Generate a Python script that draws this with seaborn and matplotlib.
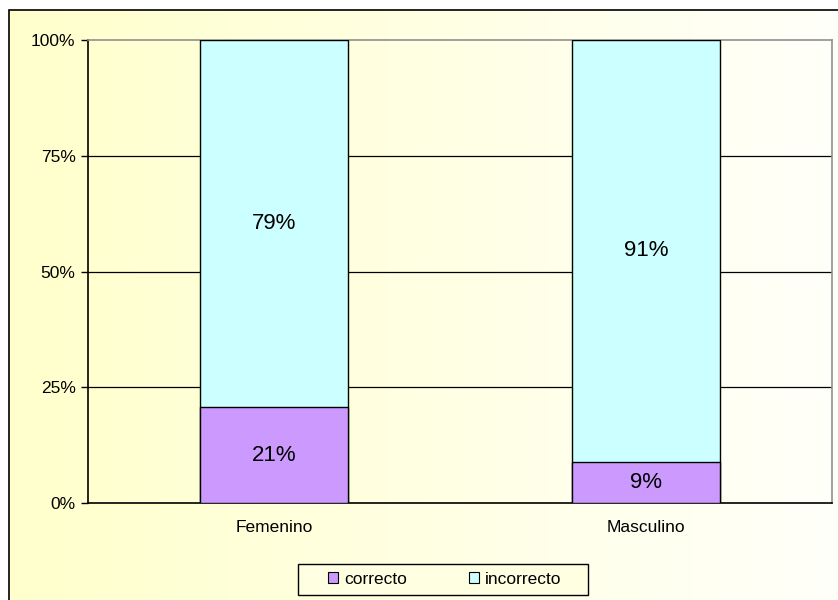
import numpy as np
import pandas as pd
import matplotlib
matplotlib.use("Agg")
import matplotlib.pyplot as plt
import matplotlib.patches as mpatches
import seaborn as sns

categories = ["Femenino", "Masculino"]
correcto = [20.7, 8.9]
incorrecto = [79.3, 91.1]
yticks = [0, 25, 50, 75, 100]
ytick_labels = ["0%", "25%", "50%", "75%", "100%"]
series_names = ["correcto", "incorrecto"]
colors = {"correcto": "#CC99FF", "incorrecto": "#CCFFFF"}

sns.set_theme(style="white")
plt.rcParams['font.family'] = ['Liberation Sans', 'DejaVu Sans']
plt.rcParams['text.color'] = 'black'
plt.rcParams['xtick.color'] = 'black'
plt.rcParams['ytick.color'] = 'black'
plt.rcParams['axes.labelcolor'] = 'black'

df = pd.DataFrame({"cat": categories, "correcto": correcto, "incorrecto": incorrecto})
df["total"] = df["correcto"] + df["incorrecto"]

fig = plt.figure(figsize=(8.38, 6.0), dpi=100)
fig.patch.set_facecolor("white")

# background gradient inside chart frame
bg = fig.add_axes([9/838, 0, 1 - 9/838, 1 - 10/600], zorder=-10)
grad = np.linspace(0, 1, 256)
c0 = np.array([255, 255, 204]) / 255
c1 = np.array([255, 255, 250]) / 255
img = (c0[None, :] * (1 - grad[:, None]) + c1[None, :] * grad[:, None])[None, :, :]
bg.imshow(img, aspect="auto", extent=[0, 1, 0, 1])
bg.set_axis_off()

# frame border
fig.patches.append(mpatches.Rectangle((9/838, -0.05), 1.1, 1 - 10/600 + 0.05,
                                      transform=fig.transFigure, fill=False,
                                      edgecolor="black", linewidth=1.2, zorder=5))

ax = fig.add_axes([88/838, 1 - 503/600, (832 - 88)/838, (503 - 40)/600])
ax.set_facecolor("none")

sns.barplot(data=df, x="cat", y="total", color=colors["incorrecto"], width=0.4,
            edgecolor="black", linewidth=1, saturation=1, ax=ax, zorder=3)
sns.barplot(data=df, x="cat", y="correcto", color=colors["correcto"], width=0.4,
            edgecolor="black", linewidth=1, saturation=1, ax=ax, zorder=4)

for i, (c, inc) in enumerate(zip(correcto, incorrecto)):
    ax.text(i, c / 2, f"{round(c):d}%", ha="center", va="center", fontsize=16,
            color="black", zorder=6)
    ax.text(i, c + inc / 2, f"{round(inc):d}%", ha="center", va="center", fontsize=16,
            color="black", zorder=6)

ax.set_xlim(-0.5, 1.5)
ax.set_ylim(0, 100)
ax.set_yticks(yticks)
ax.set_yticklabels(ytick_labels, fontsize=12.5, color="black")
ax.set_xticks([0, 1])
ax.set_xticklabels(categories, fontsize=12.5, color="black")
ax.set_xticks([-0.5, 0.5, 1.5], minor=True)
ax.tick_params(axis="x", which="major", length=0, pad=12)
ax.tick_params(axis="x", which="minor", length=6, width=1, color="black", direction="out")
ax.tick_params(axis="y", length=5, width=1, color="black", direction="out", pad=4, left=True)
ax.set_xlabel("")
ax.set_ylabel("")

for y in [25, 50, 75]:
    ax.axhline(y, color="black", linewidth=0.9, zorder=1)

ax.spines["left"].set_color("black")
ax.spines["bottom"].set_color("black")
ax.spines["top"].set_color("#909090")
ax.spines["right"].set_color("#909090")
for s in ax.spines.values():
    s.set_linewidth(1.2)
    s.set_visible(True)

# legend frame
fig.patches.append(mpatches.Rectangle((298/838, 1 - 595/600), 290/838, 31/600,
                                      transform=fig.transFigure, facecolor="#FFFFE2",
                                      edgecolor="black", linewidth=1, zorder=6))

handles = [mpatches.Patch(facecolor=colors[n], edgecolor="black", linewidth=0.8, label=n)
           for n in series_names]
leg = fig.legend(handles=handles, loc="center",
                 bbox_to_anchor=(444.5 / 838, 1 - 579 / 600),
                 ncol=2, fontsize=12.5, frameon=False,
                 handlelength=0.58, handleheight=0.58, handletextpad=0.35,
                 columnspacing=3.55, borderpad=0)
leg.set_zorder(7)

fig.savefig("out.png", dpi=100)
